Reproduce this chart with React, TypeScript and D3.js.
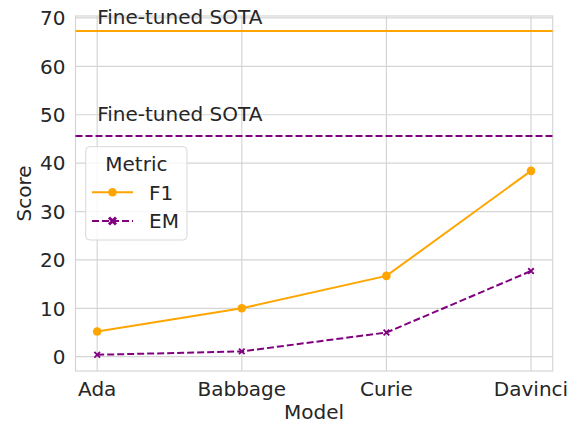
import React from 'react';
import * as d3 from 'd3';

const models = ['Ada', 'Babbage', 'Curie', 'Davinci'];
const f1Scores = [5.2, 10.0, 16.7, 38.4];
const emScores = [0.4, 1.1, 5.0, 17.7];
const yTicks = [0, 10, 20, 30, 40, 50, 60, 70];
const sotaF1 = 67.3;
const sotaEM = 45.6;
const sotaLabels = [
  { text: 'Fine-tuned SOTA', y: 68.8 },
  { text: 'Fine-tuned SOTA', y: 48.8 },
];

const W = 576;
const H = 423;
const margin = { left: 75.5, right: 23.3, top: 16, bottom: 52 };
const ORANGE = '#ffa500';
const PURPLE = '#800080';
const GRID = '#d5d5d5';
const TEXT = '#262626';
const FONT = '"DejaVu Sans", sans-serif';
const FS = 20;

const App: React.FC = () => {
  const x0 = margin.left;
  const x1 = W - margin.right;
  const y0 = H - margin.bottom;
  const y1 = margin.top;

  const x = d3.scalePoint<string>().domain(models).range([x0, x1]).padding(0.15);
  const y = d3.scaleLinear().domain([-2.95, 70.4]).range([y0, y1]);

  const line = d3
    .line<number>()
    .x((_, i) => x(models[i]) as number)
    .y((d) => y(d));

  const xMark = (cx: number, cy: number, s: number) =>
    `M${cx - s},${cy - s}L${cx + s},${cy + s}M${cx - s},${cy + s}L${cx + s},${cy - s}`;

  // legend box
  const lg = { x: 85.7, y: 146.7, w: 101.3, h: 93.3 };

  return (
    <svg width={W} height={H} style={{ position: 'absolute', left: 0, top: 0, background: '#fff' }} fontFamily={FONT}>
      {/* grid */}
      {yTicks.map((t) => (
        <line key={'gy' + t} x1={x0} x2={x1} y1={y(t)} y2={y(t)} stroke={GRID} strokeWidth={1.2} />
      ))}
      {models.map((m) => (
        <line key={'gx' + m} x1={x(m)} x2={x(m)} y1={y0} y2={y1} stroke={GRID} strokeWidth={1.2} />
      ))}
      <rect x={x0} y={y1} width={x1 - x0} height={y0 - y1} fill="none" stroke={GRID} strokeWidth={1.2} />

      {/* tick labels */}
      {yTicks.map((t) => (
        <text key={'ty' + t} x={x0 - 10} y={y(t)} dy="0.36em" textAnchor="end" fontSize={FS} fill={TEXT}>
          {t}
        </text>
      ))}
      {models.map((m) => (
        <text key={'tx' + m} x={x(m)} y={395.7} textAnchor="middle" fontSize={FS} fill={TEXT}>
          {m}
        </text>
      ))}
      <text x={(x0 + x1) / 2} y={418.5} textAnchor="middle" fontSize={FS} fill={TEXT}>
        Model
      </text>
      <text
        transform={`translate(31,${(y0 + y1) / 2}) rotate(-90)`}
        textAnchor="middle"
        fontSize={FS}
        fill={TEXT}
      >
        Score
      </text>

      {/* SOTA lines */}
      <line x1={x0} x2={x1} y1={y(sotaF1)} y2={y(sotaF1)} stroke={ORANGE} strokeWidth={2} />
      <line x1={x0} x2={x1} y1={y(sotaEM)} y2={y(sotaEM)} stroke={PURPLE} strokeWidth={2} strokeDasharray="7,3" />
      {sotaLabels.map((l, i) => (
        <text key={'s' + i} x={x(models[0])} y={y(l.y)} fontSize={FS} fill={TEXT}>
          {l.text}
        </text>
      ))}

      {/* series */}
      <path d={line(f1Scores) ?? ''} fill="none" stroke={ORANGE} strokeWidth={2} />
      <path d={line(emScores) ?? ''} fill="none" stroke={PURPLE} strokeWidth={2} strokeDasharray="7,3" />
      {f1Scores.map((v, i) => (
        <circle key={'f' + i} cx={x(models[i])} cy={y(v)} r={4.3} fill={ORANGE} />
      ))}
      {emScores.map((v, i) => (
        <path key={'e' + i} d={xMark(x(models[i]) as number, y(v), 2.8)} stroke={PURPLE} strokeWidth={1.8} />
      ))}

      {/* legend */}
      <rect x={lg.x} y={lg.y} width={lg.w} height={lg.h} rx={4} fill="#fff" fillOpacity={0.8} stroke="#d8d8d8" strokeWidth={1} />
      <text x={lg.x + lg.w / 2} y={170.5} textAnchor="middle" fontSize={FS} fill={TEXT}>
        Metric
      </text>
      <line x1={92} x2={133} y1={192.3} y2={192.3} stroke={ORANGE} strokeWidth={2} />
      <circle cx={112.5} cy={192.3} r={4.3} fill={ORANGE} />
      <text x={149} y={192.3} dy="0.36em" fontSize={FS} fill={TEXT}>
        F1
      </text>
      <line x1={92} x2={133} y1={221} y2={221} stroke={PURPLE} strokeWidth={2} strokeDasharray="7,3" />
      <path d={xMark(112.5, 221, 3.5)} stroke={PURPLE} strokeWidth={3} />
      <text x={149} y={221} dy="0.36em" fontSize={FS} fill={TEXT}>
        EM
      </text>
    </svg>
  );
};

export default App;
